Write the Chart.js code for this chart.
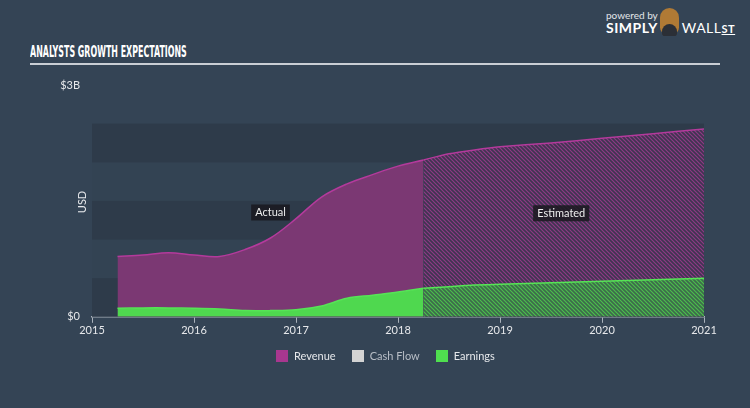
<!DOCTYPE html>
<html>
<head>
<meta charset="utf-8">
<script src="https://cdn.jsdelivr.net/npm/chart.js@4"></script>
<style>
  html, body { margin: 0; padding: 0; }
  body { width: 750px; height: 408px; background: #344455; position: relative; overflow: hidden; font-family: Lato, "Open Sans", sans-serif; }
  #title { position: absolute; left: 30px; top: 42px; color: #fff; font: bold 16px "DejaVu Sans Condensed", "Liberation Sans", sans-serif; transform: scaleX(0.55); transform-origin: left top; white-space: nowrap; }
  #rule { position: absolute; left: 30px; top: 63px; width: 690px; height: 2px; background: #c9ced4; }
  #powered { position: absolute; left: 606px; top: 9px; color: #e3e6ea; font: 10px Lato, sans-serif; }
  #brand { position: absolute; left: 606px; top: 19px; color: #fff; font: bold 14px Lato, sans-serif; letter-spacing: 0.5px; }
  #brand .w { font-weight: normal; margin-left: 24px; }
  #brand .st { font-size: 11px; text-decoration: underline; }
  #bull { position: absolute; left: 660px; top: 8px; width: 19px; height: 27px; border-radius: 10px 10px 8px 8px; background: #b07a35; }
  #bull:after { content: ""; position: absolute; left: 2px; top: 16px; width: 15px; height: 12px; border-radius: 8px 8px 3px 3px; background: #2b2f36; }
  canvas { position: absolute; left: 0; top: 0; }
  #legend { position: absolute; top: 349px; left: 276px; color: #e6e8eb; font: 11px Lato, sans-serif; display: flex; gap: 16px; }
  #legend span { display: flex; align-items: center; }
  #legend i { display: inline-block; width: 12px; height: 12px; margin-right: 6px; }
</style>
</head>
<body>
<div id="title">ANALYSTS GROWTH EXPECTATIONS</div>
<div id="rule"></div>
<div id="powered">powered by</div>
<div id="bull"></div>
<div id="brand">SIMPLY<span class="w">WALL</span><span class="st">ST</span></div>
<canvas id="myChart" width="750" height="408"></canvas>
<div id="legend">
  <span><i style="background:#a8378f"></i>Revenue</span>
  <span style="color:#b8bec6"><i style="background:#d3d3d3"></i>Cash Flow</span>
  <span><i style="background:#4fdf4f"></i>Earnings</span>
</div>
<script>
// dates as decimal years, values in billions USD
var actualDates = [2015.25, 2015.5, 2015.75, 2016.0, 2016.25, 2016.5, 2016.75, 2017.0, 2017.25, 2017.5, 2017.75, 2018.0, 2018.25];
var revenueActual = [0.78, 0.80, 0.83, 0.80, 0.78, 0.87, 1.02, 1.27, 1.55, 1.72, 1.84, 1.95, 2.03];
var earningsActual = [0.11, 0.115, 0.115, 0.11, 0.10, 0.08, 0.08, 0.09, 0.14, 0.24, 0.28, 0.32, 0.37];

var estDates = [2018.25, 2018.5, 2018.75, 2019.0, 2019.5, 2020.0, 2020.5, 2021.0];
var revenueEst = [2.03, 2.11, 2.16, 2.20, 2.25, 2.31, 2.37, 2.43];
var earningsEst = [0.37, 0.39, 0.41, 0.42, 0.44, 0.46, 0.48, 0.50];

var yearTicks = [2015, 2016, 2017, 2018, 2019, 2020, 2021];
var yLabels = [[0, '$0'], [3, '$3B']];

var pts = (xs, ys) => xs.map((x, i) => ({x: x, y: ys[i]}));

var hatch = (bg, fg) => {
    var c = document.createElement('canvas');
    c.width = 4; c.height = 4;
    var g = c.getContext('2d');
    g.fillStyle = bg; g.fillRect(0, 0, 4, 4);
    g.strokeStyle = fg; g.lineWidth = 1.2;
    g.beginPath(); g.moveTo(0, 0); g.lineTo(4, 4); g.moveTo(-1, 3); g.lineTo(1, 5); g.moveTo(3, -1); g.lineTo(5, 1); g.stroke();
    return g.createPattern(c, 'repeat');
}

var bands = {
    id: 'bands',
    beforeDatasetsDraw(chart) {
        var ctx = chart.ctx, a = chart.chartArea, y = chart.scales.y;
        ctx.save();
        for (var v = 0; v < 2.5; v += 0.5) {
            ctx.fillStyle = (Math.round(v * 2) % 2 === 0) ? '#2e3b4a' : '#334353';
            var t = y.getPixelForValue(v + 0.5), b = y.getPixelForValue(v);
            ctx.fillRect(a.left, t, a.right - a.left, b - t);
        }
        ctx.restore();
    },
    afterDatasetsDraw(chart) {
        var ctx = chart.ctx, x = chart.scales.x, y = chart.scales.y;
        ctx.save();
        ctx.font = '11px Lato, sans-serif';
        ctx.fillStyle = '#e6e8eb';
        ctx.textAlign = 'right'; ctx.textBaseline = 'middle';
        yLabels.forEach(l => ctx.fillText(l[1], 80, y.getPixelForValue(l[0])));
        ctx.save();
        ctx.translate(82, 202); ctx.rotate(-Math.PI / 2);
        ctx.textAlign = 'center';
        ctx.fillText('USD', 0, 0);
        ctx.restore();
        var box = (txt, cx, cy) => {
            var w = ctx.measureText(txt).width + 8;
            ctx.fillStyle = 'rgba(25,25,30,0.85)';
            ctx.fillRect(cx - w / 2, cy - 8, w, 16);
            ctx.fillStyle = '#eee'; ctx.textAlign = 'center';
            ctx.fillText(txt, cx, cy);
        }
        box('Actual', x.getPixelForValue(2016.75), y.getPixelForValue(1.35));
        box('Estimated', x.getPixelForValue(2019.6), y.getPixelForValue(1.34));
        ctx.restore();
    }
}

var ctx = document.getElementById('myChart').getContext('2d');
var chart = new Chart(ctx, {
    type: 'line',
    data: {
        datasets: [{
            label: 'Earnings',
            data: pts(actualDates, earningsActual),
            borderColor: '#56e456',
            backgroundColor: '#4fd84f',
            borderWidth: 1.5,
            fill: 'origin',
            order: 0
        }, {
            label: 'Earnings est',
            data: pts(estDates, earningsEst),
            borderColor: '#56e456',
            backgroundColor: hatch('#3d6a4c', '#4cbf4c'),
            borderWidth: 1.5,
            fill: 'origin',
            tension: 0.2,
            order: 0
        }, {
            label: 'Revenue',
            data: pts(actualDates, revenueActual),
            borderColor: '#b43a9c',
            backgroundColor: '#7b3873',
            borderWidth: 1.5,
            fill: 'origin',
            order: 1
        }, {
            label: 'Revenue est',
            data: pts(estDates, revenueEst),
            borderColor: '#b43a9c',
            backgroundColor: hatch('#3e3550', '#8f3a86'),
            borderWidth: 1.5,
            fill: 'origin',
            tension: 0.2,
            order: 1
        }]
    },
    options: {
        responsive: false,
        animation: false,
        layout: { padding: { left: 92, right: 46, top: 85, bottom: 70 } },
        elements: { point: { radius: 0 }, line: { tension: 0.35 } },
        plugins: { legend: { display: false }, tooltip: { enabled: false } },
        scales: {
            x: {
                type: 'linear', min: 2015, max: 2021,
                afterBuildTicks: s => { s.ticks = yearTicks.map(v => ({value: v})); },
                grid: { drawOnChartArea: false, drawTicks: true, tickLength: 6, color: '#aab2bb' },
                border: { display: true, color: '#aab2bb', width: 1.5 },
                ticks: { color: '#e6e8eb', font: { size: 11, family: 'Lato' }, padding: 1, callback: v => String(v), maxRotation: 0 }
            },
            y: { display: false, min: 0, max: 3 }
        }
    },
    plugins: [bands]
});
</script>
</body>
</html>
